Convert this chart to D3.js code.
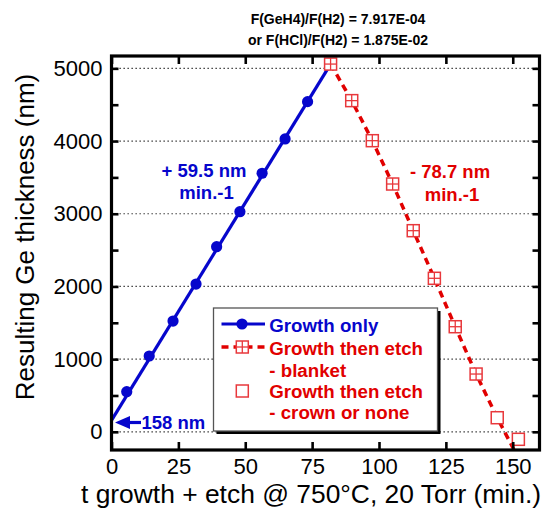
<!DOCTYPE html>
<html>
<head>
<meta charset="utf-8">
<script src="https://cdn.jsdelivr.net/npm/d3@7"></script>
<style>
  html, body { margin: 0; padding: 0; background: #fff; }
  svg { display: block; font-family: "Liberation Sans", Arial, sans-serif; }
</style>
</head>
<body>
<svg id="chart" width="547" height="510"></svg>
<script>
// ---- data ----
const titleLines = ["F(GeH4)/F(H2) = 7.917E-04", "or F(HCl)/F(H2) = 1.875E-02"];
const xTicks = [0, 25, 50, 75, 100, 125, 150];
const yMajor = [0, 1000, 2000, 3000, 4000, 5000];
const yMinor = [500, 1500, 2500, 3500, 4500];

// Growth only (blue circles)
const growthX = [5.7, 14.1, 23.0, 31.6, 39.3, 48.0, 56.3, 64.9, 73.3];
const growthY = [552, 1043, 1524, 2033, 2547, 3028, 3557, 4029, 4542];
// growth fit line (+59.5 nm/min, intercept 158 nm)
const growthLineX = [0, 81.9];
const growthLineY = [158, 5059];

// Growth then etch - blanket (crossed squares)
const blanketX = [81.9, 89.8, 97.5, 105.1, 112.8, 120.7, 128.5, 136.3];
const blanketY = [5059, 4556, 4005, 3409, 2767, 2112, 1446, 795];
// Growth then etch - crown or none (open squares)
const crownX = [144.2, 152.1];
const crownY = [194, -103];
// dashed etch trend line
const etchLineX = [81.9, 89.8, 97.5, 105.1, 112.8, 120.7, 128.5, 136.3, 144.2, 150.5];
const etchLineY = [5059, 4556, 4005, 3409, 2767, 2112, 1446, 795, 194, -250];

const legendLabels = ["Growth only", "Growth then etch", "- blanket", "Growth then etch", "- crown or none"];

// ---- drawing ----
const svg = d3.select("#chart");
const BLUE = "#0606cc", RED = "#e10000", SQ = "#e8383c";
const x = d3.scaleLinear([0, 160], [111.5, 539.5]);
const y = d3.scaleLinear([-250, 5170], [450, 56]);

// title
svg.append("g").selectAll("text").data(titleLines).join("text")
  .attr("x", 338).attr("y", (d, i) => 24 + i * 21)
  .attr("text-anchor", "middle").attr("font-size", 14).attr("font-weight", "bold")
  .text(d => d);

// gridlines
svg.append("g").selectAll("line").data(yMajor).join("line")
  .attr("x1", x(0)).attr("x2", x(160))
  .attr("y1", d => y(d)).attr("y2", d => y(d))
  .attr("stroke", "#222").attr("stroke-width", 1.2).attr("stroke-dasharray", "1.3,2.7");

// growth line + points
const line = d3.line().x(d => x(d[0])).y(d => y(d[1]));
svg.append("path").datum(growthLineX.map((v, i) => [v, growthLineY[i]]))
  .attr("d", line).attr("fill", "none").attr("stroke", BLUE).attr("stroke-width", 3.2);

svg.append("path").datum(etchLineX.map((v, i) => [v, etchLineY[i]]))
  .attr("d", line).attr("fill", "none").attr("stroke", RED).attr("stroke-width", 3.5)
  .attr("stroke-dasharray", "7,5");

svg.append("g").selectAll("circle").data(growthX.map((v, i) => [v, growthY[i]])).join("circle")
  .attr("cx", d => x(d[0])).attr("cy", d => y(d[1])).attr("r", 5.6).attr("fill", BLUE);

function crossedSquare(g, cx, cy, s) {
  g.append("rect").attr("x", cx - s / 2).attr("y", cy - s / 2).attr("width", s).attr("height", s)
    .attr("fill", "#fff").attr("stroke", SQ).attr("stroke-width", 1.5);
  g.append("line").attr("x1", cx).attr("x2", cx).attr("y1", cy - s / 2).attr("y2", cy + s / 2)
    .attr("stroke", SQ).attr("stroke-width", 1.3);
  g.append("line").attr("x1", cx - s / 2).attr("x2", cx + s / 2).attr("y1", cy).attr("y2", cy)
    .attr("stroke", SQ).attr("stroke-width", 1.3);
}
function openSquare(g, cx, cy, s) {
  g.append("rect").attr("x", cx - s / 2).attr("y", cy - s / 2).attr("width", s).attr("height", s)
    .attr("fill", "#fff").attr("stroke", SQ).attr("stroke-width", 1.5);
}
const gB = svg.append("g");
blanketX.forEach((v, i) => crossedSquare(gB, x(v), y(blanketY[i]), 12));
const gC = svg.append("g");
crownX.forEach((v, i) => openSquare(gC, x(v), y(crownY[i]), 12));

// annotations
const ann = svg.append("g").attr("font-size", 18.5).attr("font-weight", "bold");
ann.append("text").attr("x", 204).attr("y", 177).attr("text-anchor", "middle").attr("fill", BLUE).text("+ 59.5 nm");
ann.append("text").attr("x", 206.5).attr("y", 199).attr("text-anchor", "middle").attr("fill", BLUE).text("min.-1");
ann.append("text").attr("x", 450).attr("y", 178).attr("text-anchor", "middle").attr("fill", RED).text("- 78.7 nm");
ann.append("text").attr("x", 452).attr("y", 200.5).attr("text-anchor", "middle").attr("fill", RED).text("min.-1");
ann.append("text").attr("x", 141.5).attr("y", 428.5).attr("fill", BLUE).text("158 nm");
svg.append("line").attr("x1", 128).attr("x2", 141).attr("y1", 422.5).attr("y2", 422.5)
  .attr("stroke", BLUE).attr("stroke-width", 3.2);
svg.append("path").attr("d", "M115,422.5 L130,416 L130,429 Z").attr("fill", BLUE);

// legend
const lg = svg.append("g");
lg.append("rect").attr("x", 216.5).attr("y", 311).attr("width", 224).attr("height", 123).attr("fill", "#000");
lg.append("rect").attr("x", 213.5).attr("y", 308).attr("width", 224).attr("height", 123)
  .attr("fill", "#fff").attr("stroke", "#555").attr("stroke-width", 1.3);
lg.append("line").attr("x1", 221.5).attr("x2", 265).attr("y1", 324).attr("y2", 324)
  .attr("stroke", BLUE).attr("stroke-width", 3.2);
lg.append("circle").attr("cx", 242).attr("cy", 324).attr("r", 5.6).attr("fill", BLUE);
lg.append("line").attr("x1", 221.5).attr("x2", 265).attr("y1", 347).attr("y2", 347)
  .attr("stroke", RED).attr("stroke-width", 3.5).attr("stroke-dasharray", "7,5");
crossedSquare(lg, 242.3, 347, 12);
openSquare(lg, 242.3, 391, 12);
const lgBase = [331.5, 354.5, 376.5, 397.5, 419];
lg.selectAll("text").data(legendLabels).join("text")
  .attr("x", 269.3).attr("y", (d, i) => lgBase[i])
  .attr("font-size", 18.7).attr("font-weight", "bold")
  .attr("fill", (d, i) => i === 0 ? BLUE : RED).text(d => d);

// axes
function styleAxis(g) {
  g.select(".domain").remove();
  g.selectAll(".tick line").attr("stroke", "#000").attr("stroke-width", 2.6);
  g.selectAll(".tick text").attr("font-size", 22).attr("fill", "#000")
    .attr("font-family", "'Liberation Sans', Arial, sans-serif");
}
svg.append("g").attr("transform", "translate(0,450)")
  .call(d3.axisBottom(x).tickValues(xTicks).tickSize(-8).tickPadding(8)).call(styleAxis);
svg.append("g").attr("transform", "translate(0,56)")
  .call(d3.axisTop(x).tickValues(xTicks).tickSize(-8).tickFormat("")).call(styleAxis);
svg.append("g").attr("transform", "translate(111.5,0)")
  .call(d3.axisLeft(y).tickValues(yMajor).tickSize(-7).tickPadding(9).tickFormat(d3.format("d"))).call(styleAxis);
svg.append("g").attr("transform", "translate(111.5,0)")
  .call(d3.axisLeft(y).tickValues(yMinor).tickSize(-7).tickFormat("")).call(styleAxis);
svg.append("g").attr("transform", "translate(539.5,0)")
  .call(d3.axisRight(y).tickValues(yMajor.concat(yMinor)).tickSize(-7).tickFormat("")).call(styleAxis);

// frame
svg.append("rect").attr("x", x(0)).attr("y", y(5170)).attr("width", x(160) - x(0)).attr("height", y(-250) - y(5170))
  .attr("fill", "none").attr("stroke", "#000").attr("stroke-width", 3.2);

// axis titles
svg.append("text").attr("x", 311).attr("y", 503).attr("text-anchor", "middle").attr("font-size", 26.4)
  .text("t growth + etch @ 750°C, 20 Torr (min.)");
svg.append("text").attr("transform", "translate(34,237) rotate(-90)").attr("text-anchor", "middle")
  .attr("font-size", 26).text("Resulting Ge thickness (nm)");
</script>
</body>
</html>
